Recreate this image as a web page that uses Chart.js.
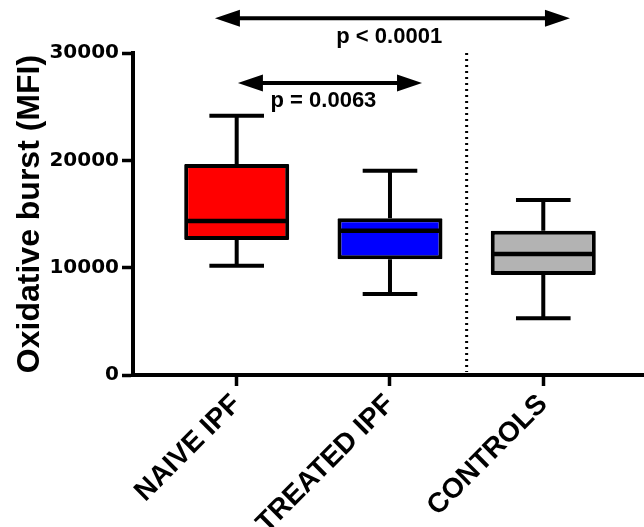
<!DOCTYPE html>
<html>
<head>
<meta charset="utf-8">
<script src="https://cdn.jsdelivr.net/npm/chart.js@4.4.0/dist/chart.umd.min.js"></script>
<style>
  html, body { margin: 0; padding: 0; background: #fff; }
  canvas { display: block; }
</style>
</head>
<body>
<canvas id="chart" width="644" height="527"></canvas>
<script>
// Box plot values
const categories = ["NAIVE IPF", "TREATED IPF", "CONTROLS"];
const groupPos = [1, 2, 3];
const whiskerMin = [10180, 7550, 5280];
const q1 = [12580, 10780, 9320];
const median = [14350, 13440, 11270];
const q3 = [19660, 14600, 13440];
const whiskerMax = [24160, 19030, 16300];
const yTicks = [0, 10000, 20000, 30000];
const boxColors = ["#ff0000", "#0000ff", "#b3b3b3"];

// Significance arrows, in data units
const comparisons = [
  { from: 0.858, to: 3.174, y: 33230, label: "p < 0.0001", labelX: 1.995, labelY: 30960 },
  { from: 1.008, to: 2.209, y: 27200, label: "p = 0.0063", labelX: 1.566, labelY: 25010 },
];
const dividerX = 2.5;

const boldSans = "'Liberation Sans', Arial, sans-serif";

function drawArrow(ctx, x1, x2, y) {
  const head = 25, halfH = 8.5;
  ctx.beginPath();
  ctx.moveTo(x1 + head - 2, y);
  ctx.lineTo(x2 - head + 2, y);
  ctx.stroke();
  ctx.beginPath();
  ctx.moveTo(x1, y);
  ctx.lineTo(x1 + head, y - halfH);
  ctx.lineTo(x1 + head, y + halfH);
  ctx.closePath();
  ctx.moveTo(x2, y);
  ctx.lineTo(x2 - head, y - halfH);
  ctx.lineTo(x2 - head, y + halfH);
  ctx.closePath();
  ctx.fill();
}

const boxPlot = {
  id: "boxPlot",
  beforeDatasetsDraw(chart) {
    const { ctx, scales: { x, y } } = chart;
    const bars = chart.getDatasetMeta(0).data;
    ctx.save();
    // dotted divider between IPF groups and controls
    ctx.strokeStyle = "#000";
    ctx.lineWidth = 3;
    ctx.setLineDash([2, 4]);
    ctx.beginPath();
    ctx.moveTo(x.getPixelForValue(dividerX), y.getPixelForValue(yTicks[yTicks.length - 1]));
    ctx.lineTo(x.getPixelForValue(dividerX), y.getPixelForValue(0) - 3);
    ctx.stroke();
    ctx.setLineDash([]);
    // whiskers
    ctx.lineWidth = 4;
    bars.forEach((bar, i) => {
      const cx = x.getPixelForValue(groupPos[i]);
      const half = bar.width * 0.26;
      const top = y.getPixelForValue(whiskerMax[i]);
      const bot = y.getPixelForValue(whiskerMin[i]);
      ctx.beginPath();
      ctx.moveTo(cx, top);
      ctx.lineTo(cx, y.getPixelForValue(q3[i]));
      ctx.moveTo(cx, bot);
      ctx.lineTo(cx, y.getPixelForValue(q1[i]));
      ctx.moveTo(cx - half, top);
      ctx.lineTo(cx + half, top);
      ctx.moveTo(cx - half, bot);
      ctx.lineTo(cx + half, bot);
      ctx.stroke();
    });
    ctx.restore();
  },
  afterDatasetsDraw(chart) {
    const { ctx, scales: { y } } = chart;
    const bars = chart.getDatasetMeta(0).data;
    ctx.save();
    ctx.strokeStyle = "#000";
    ctx.lineWidth = 4.5;
    bars.forEach((bar, i) => {
      const my = y.getPixelForValue(median[i]);
      ctx.beginPath();
      ctx.moveTo(bar.x - bar.width / 2 + 2, my);
      ctx.lineTo(bar.x + bar.width / 2 - 2, my);
      ctx.stroke();
    });
    ctx.restore();
  },
  afterDraw(chart) {
    const { ctx, scales: { x, y } } = chart;
    ctx.save();
    ctx.strokeStyle = "#000";
    ctx.fillStyle = "#000";
    ctx.lineWidth = 4;
    ctx.font = "bold 22px " + boldSans;
    ctx.textAlign = "center";
    ctx.textBaseline = "alphabetic";
    comparisons.forEach(c => {
      drawArrow(ctx, x.getPixelForValue(c.from), x.getPixelForValue(c.to), y.getPixelForValue(c.y));
      ctx.fillText(c.label, x.getPixelForValue(c.labelX), y.getPixelForValue(c.labelY));
    });
    ctx.restore();
  }
};

new Chart(document.getElementById("chart"), {
  type: "bar",
  data: {
    datasets: [{
      data: groupPos.map((p, i) => ({ x: p, y: [q1[i], q3[i]] })),
      backgroundColor: boxColors,
      borderColor: "#000",
      borderWidth: 4,
      borderSkipped: false,
      borderRadius: 1,
      categoryPercentage: 1,
      barPercentage: 0.685,
    }],
  },
  options: {
    responsive: false,
    animation: false,
    layout: { padding: { top: 53, right: 0, left: 0, bottom: 0 } },
    plugins: { legend: { display: false }, tooltip: { enabled: false } },
    scales: {
      x: {
        type: "linear",
        offset: false,
        min: 0.3236,
        max: 3.657,
        afterBuildTicks: s => { s.ticks = groupPos.map(v => ({ value: v })); },
        afterFit: s => { s.height = 152; s.paddingLeft = 0; s.paddingRight = 0; },
        ticks: {
          autoSkip: false,
          minRotation: 45,
          maxRotation: 45,
          padding: 2,
          color: "#000",
          font: { family: boldSans, weight: "bold", size: 28 },
          callback: v => categories[groupPos.indexOf(v)] || "",
        },
        grid: { offset: false, drawOnChartArea: false, drawTicks: true, tickLength: 11, tickWidth: 3.5, tickColor: "#000" },
        border: { display: true, width: 4, color: "#000" },
      },
      y: {
        min: 0,
        max: 30000,
        afterBuildTicks: s => { s.ticks = yTicks.map(v => ({ value: v })); },
        afterFit: s => { s.width = 133; },
        ticks: {
          color: "#000",
          padding: 3,
          font: { family: "'DejaVu Sans', sans-serif", weight: "bold", size: 20 },
          callback: v => String(v),
        },
        grid: { drawOnChartArea: false, drawTicks: true, tickLength: 11, tickWidth: 3.5, tickColor: "#000" },
        border: { display: true, width: 4, color: "#000" },
        title: {
          display: true,
          text: "Oxidative burst (MFI)",
          color: "#000",
          padding: { top: 11, bottom: 0 },
          font: { family: boldSans, weight: "bold", size: 32 },
        },
      },
    },
  },
  plugins: [boxPlot],
});
</script>
</body>
</html>
